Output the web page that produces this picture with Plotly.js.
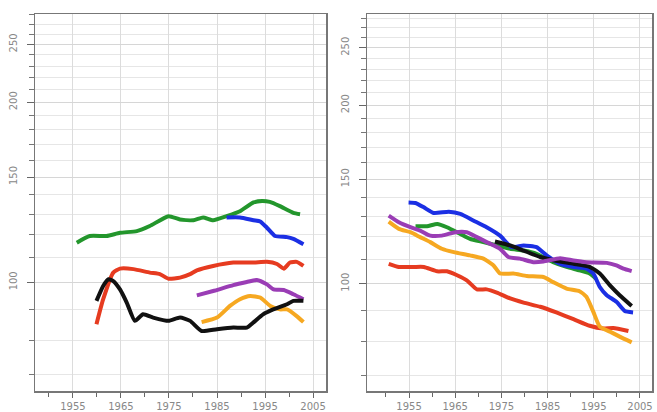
<!DOCTYPE html>
<html>
<head>
<meta charset="utf-8">
<script src="https://cdn.plot.ly/plotly-3.0.1.min.js"></script>
<style>html,body{margin:0;padding:0;background:#fff}#chart{width:657px;height:412px}</style>
</head>
<body>
<div id="chart"></div>
<script>
// ---- Left panel data ----
const L_green_x = [1955.8,1958.5,1962,1964.8,1968.3,1971,1974.9,1977.3,1980.1,1982.1,1984.2,1987,1989.8,1992.6,1994.4,1996,1998.1,2000.9,2002.3];
const L_green_y = [116.5,119.5,119.5,121,121.8,124.2,129,127.4,127,128.4,127,129,131.5,136,136.8,136.3,134.1,130.7,130];
const L_blue_x = [1987,1989.8,1992.6,1994,1995.4,1997.1,1999.6,2000.9,2003];
const L_blue_y = [128.4,128.4,127,126.4,123.4,119.5,119,118.2,115.8];
const L_red_x = [1959.9,1961.3,1963.4,1964.8,1967.6,1971,1973.1,1974.9,1977.3,1979.4,1980.8,1984.2,1988.4,1992.6,1995.4,1997.5,1998.9,2000.2,2001.6,2003];
const L_red_y = [85.1,93.7,103.8,105.4,105.2,103.8,103.2,101.4,101.8,103.2,104.7,106.5,107.9,107.9,108.2,107.3,105.4,107.9,108.2,106.5];
const L_black_x = [1959.9,1961.3,1962.4,1963.4,1964.8,1966.2,1967.9,1969.6,1971.7,1974.9,1977.3,1979.4,1981.8,1985,1988.4,1991.2,1992.6,1994.6,1996.7,1999.6,2000.9,2003];
const L_black_y = [93.1,98.6,101.2,100.5,97.3,92.5,86.2,88.4,87.3,86.2,87.3,86.2,82.9,83.5,84,84,85.7,88.4,90.1,91.9,93.1,93.1];
const L_purple_x = [1980.8,1984.2,1988.4,1991.2,1993.3,1995.4,1996.8,1998.9,2000.9,2003];
const L_purple_y = [95.1,96.7,98.9,100.1,100.9,99.2,97.3,97.1,95.5,93.7];
const L_orange_x = [1981.8,1985,1987.7,1989.8,1991.9,1994,1996.1,1998.1,1999.6,2001.6,2003];
const L_orange_y = [85.8,87.3,91.3,93.7,94.9,94.3,91.3,90.1,90.1,87.8,85.8];

// ---- Right panel data ----
const R_blue_x = [1954.9,1956.4,1958.2,1960.3,1963.6,1966.1,1969,1971.8,1974.7,1977.2,1979.8,1982.6,1984.8,1987.7,1990.6,1993.4,1994.9,1996.3,1997.8,1999.9,2001.7,2003.5];
const R_blue_y = [137.1,136.8,134.5,131.6,132.2,131.1,127.7,124.5,120.5,115.2,116,115.2,111.6,108,106.7,106,104,98.7,95.6,93.2,89.9,89.4];
const R_green_x = [1956.4,1958.9,1961.1,1963.2,1966.1,1968.2,1971.1,1974,1976.9,1979.8,1982.6,1986.2,1989.1,1991.9,1994.1,1995.5];
const R_green_y = [125,125,126.1,124.5,121.3,119,117.5,116,114.5,113.7,112.3,108.7,106.7,105.3,104,101.9];
const R_black_x = [1973.6,1976.9,1979.8,1983.4,1986.2,1990.6,1994.1,1996.3,1998.5,2000.6,2003.2];
const R_black_y = [117.8,116,113.7,110.9,109.5,108,106.7,104,99.3,95.6,91.7];
const R_purple_x = [1950.6,1952.8,1955.3,1957.4,1959.6,1962.1,1965,1967.5,1969.7,1971.8,1974.7,1976.5,1979,1981.9,1984.1,1987.7,1990.6,1993.4,1997.8,1999.9,2001.4,2003.2];
const R_purple_y = [130.2,126.9,124.5,122.9,120.5,120.5,122.1,122.1,119.8,117.5,114.5,110.9,110.2,108.7,109,110.4,109.4,108.7,108.4,107.3,106,105];
const R_orange_x = [1950.6,1952.8,1955.3,1957.4,1959.6,1962.1,1964.7,1968.2,1971.1,1973.3,1974.7,1977.6,1980.5,1984.1,1986.2,1989.1,1991.9,1993.4,1994.9,1996.3,1998.5,2000.6,2003.2];
const R_orange_y = [127.2,123.7,122.1,119.8,117.5,114.5,113,111.6,110.2,107.3,104,104,103,102.6,100.6,98.1,97.1,95,89.6,84.6,83,81.4,79.6];
const R_red_x = [1950.6,1952.8,1956,1958.2,1961.1,1963.2,1965.4,1967.5,1969.7,1971.8,1974,1976.9,1979.8,1983.4,1986.9,1990.6,1994.1,1997,1999.2,2002.5];
const R_red_y = [108,106.7,106.7,106.7,104.9,104.9,103.3,101.3,97.8,97.8,96.6,94.4,92.9,91.4,89.4,87.1,84.9,84,84.2,83.2];

const xTicks = [1955,1965,1975,1985,1995,2005];
const xTickText = ["1955","1965","1975","1985","1995","2005"];
const yTicks = [100,150,200,250];
const yTickText = ["100","150","200","250"];
const yMinor = [70,80,90,110,120,130,140,160,170,180,190,210,220,230,240,260,270,280];

const C = {green:'#23962c', blue:'#1b2fe4', red:'#e63b20', black:'#111111', purple:'#9a3db5', orange:'#f6a821'};

function tr(x, y, color, xa, ya) {
  return {x: x, y: y, type: 'scatter', mode: 'lines', xaxis: xa, yaxis: ya,
          line: {color: color, width: 4, shape: 'spline', smoothing: 0.5}, hoverinfo: 'skip', showlegend: false};
}

const data = [
  tr(L_green_x, L_green_y, C.green, 'x', 'y'),
  tr(L_blue_x, L_blue_y, C.blue, 'x', 'y'),
  tr(L_red_x, L_red_y, C.red, 'x', 'y'),
  tr(L_purple_x, L_purple_y, C.purple, 'x', 'y'),
  tr(L_orange_x, L_orange_y, C.orange, 'x', 'y'),
  tr(L_black_x, L_black_y, C.black, 'x', 'y'),
  tr(R_red_x, R_red_y, C.red, 'x2', 'y2'),
  tr(R_orange_x, R_orange_y, C.orange, 'x2', 'y2'),
  tr(R_green_x, R_green_y, C.green, 'x2', 'y2'),
  tr(R_blue_x, R_blue_y, C.blue, 'x2', 'y2'),
  tr(R_black_x, R_black_y, C.black, 'x2', 'y2'),
  tr(R_purple_x, R_purple_y, C.purple, 'x2', 'y2')
];

function xax(domain, range, anchor) {
  return {domain: domain, range: range, anchor: anchor, tickmode: 'array', tickvals: xTicks, ticktext: xTickText,
    ticks: 'outside', ticklen: 5, tickcolor: '#666', tickwidth: 1,
    showgrid: true, gridcolor: '#dcdcdc', gridwidth: 1, zeroline: false,
    showline: true, linecolor: '#777', linewidth: 1.5, mirror: true,
    ticklabelstandoff: 0,
    tickfont: {family: 'DejaVu Sans, sans-serif', size: 10, color: '#888'},
    minor: {dtick: 5, tick0: 1950, ticks: 'outside', ticklen: 4, tickcolor: '#666', showgrid: false}};
}
function yax(domain, range, anchor) {
  return {domain: domain, type: 'log', range: range, anchor: anchor, tickmode: 'array', tickvals: yTicks, ticktext: yTickText,
    tickangle: -90, ticks: 'outside', ticklen: 7, tickcolor: '#666', tickwidth: 1,
    showgrid: true, gridcolor: '#d6d6d6', gridwidth: 1, zeroline: false,
    showline: true, linecolor: '#777', linewidth: 1.5, mirror: true,
    ticklabelstandoff: 6,
    tickfont: {family: 'DejaVu Sans, sans-serif', size: 10, color: '#888'},
    minor: {tickmode: 'array', tickvals: yMinor, ticks: 'outside', ticklen: 5, tickcolor: '#777', showgrid: true, gridcolor: '#e6e6e6', gridwidth: 1}};
}

const layout = {
  width: 657, height: 412,
  margin: {l: 0, r: 0, t: 0, b: 0},
  paper_bgcolor: '#ffffff', plot_bgcolor: '#ffffff',
  showlegend: false,
  xaxis: xax([35/657, 326/657], [1947.1, 2007.7], 'y'),
  yaxis: yax([21/412, 398/412], [Math.log10(65.8), Math.log10(281)], 'x'),
  xaxis2: xax([367/657, 652/657], [1945.9, 2007.6], 'y2'),
  yaxis2: yax([21/412, 398/412], [Math.log10(65.9), Math.log10(285)], 'x2')
};

Plotly.newPlot('chart', data, layout, {staticPlot: true, displayModeBar: false});
</script>
</body>
</html>
